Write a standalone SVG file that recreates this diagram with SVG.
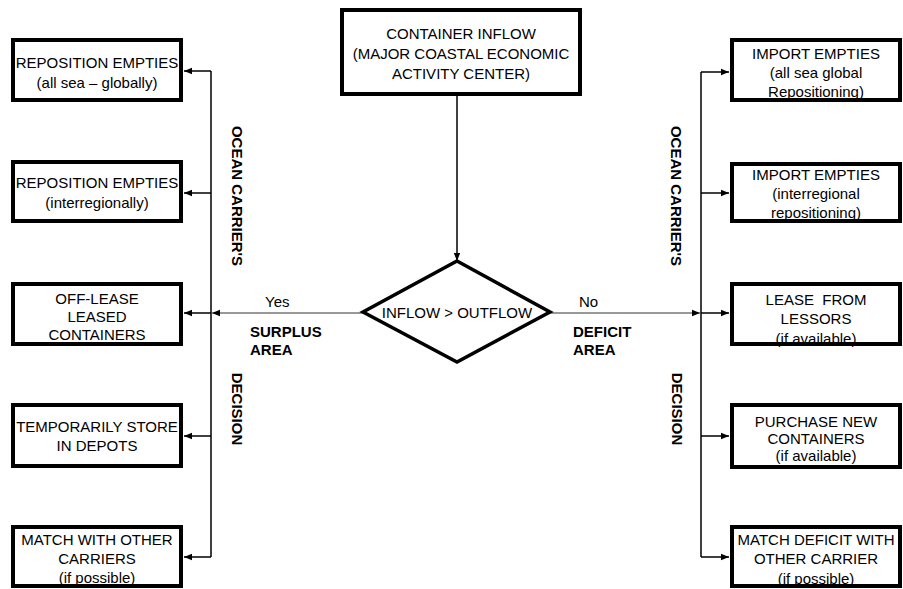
<svg xmlns="http://www.w3.org/2000/svg" width="903" height="589" viewBox="0 0 903 589">
<style>
text{font-family:"Liberation Sans",Arial,sans-serif;font-size:15px;fill:#000}
.c{text-anchor:middle}
.b{font-weight:bold}
.box{fill:none;stroke:#000;stroke-width:4}
.dia{fill:#fff;stroke:#000;stroke-width:3.5}
.ln{fill:none;stroke:#000;stroke-width:1.5}
.lt{fill:none;stroke:#333;stroke-width:1}
</style>
<defs>
<marker id="ah" viewBox="0 0 8 8" refX="8" refY="4" markerWidth="8" markerHeight="8" markerUnits="userSpaceOnUse" orient="auto">
<path d="M0,0.8 L8,4 L0,7.2 Z" fill="#000"/>
</marker>
</defs>
<rect width="903" height="589" fill="#fff"/>

<g id="connectors">
<path class="ln" d="M457,95 V261" marker-end="url(#ah)"/>
<path class="lt" d="M363,313 H212" marker-end="url(#ah)"/>
<path class="lt" d="M550,313 H700" marker-end="url(#ah)"/>
<path class="ln" d="M211,71 V557"/>
<path class="ln" d="M211,71 H184" marker-end="url(#ah)"/>
<path class="ln" d="M211,193 H184" marker-end="url(#ah)"/>
<path class="ln" d="M211,313 H184" marker-end="url(#ah)"/>
<path class="ln" d="M211,436 H184" marker-end="url(#ah)"/>
<path class="ln" d="M211,557 H184" marker-end="url(#ah)"/>
<path class="ln" d="M701,72 V557"/>
<path class="ln" d="M701,72 H729" marker-end="url(#ah)"/>
<path class="ln" d="M701,193 H729" marker-end="url(#ah)"/>
<path class="ln" d="M701,313 H729" marker-end="url(#ah)"/>
<path class="ln" d="M701,436 H729" marker-end="url(#ah)"/>
<path class="ln" d="M701,557 H729" marker-end="url(#ah)"/>
</g>

<g id="labels">
<text x="265" y="307">Yes</text>
<text class="b" x="250" y="337">SURPLUS</text>
<text class="b" x="250" y="355">AREA</text>
<text x="579" y="307">No</text>
<text class="b" x="573" y="337">DEFICIT</text>
<text class="b" x="573" y="355">AREA</text>
<text class="b c" transform="translate(237,196) rotate(90)" dominant-baseline="central">OCEAN CARRIER'S</text>
<text class="b c" transform="translate(237,409) rotate(90)" dominant-baseline="central">DECISION</text>
<text class="b c" transform="translate(676,196) rotate(90)" dominant-baseline="central">OCEAN CARRIER'S</text>
<text class="b c" transform="translate(677,409) rotate(90)" dominant-baseline="central">DECISION</text>
</g>

<g id="inflow">
<text class="c" x="461" y="39">CONTAINER INFLOW</text>
<text class="c" x="461" y="59">(MAJOR COASTAL ECONOMIC</text>
<text class="c" x="461" y="79">ACTIVITY CENTER)</text>
<rect class="box" x="342" y="10" width="238" height="84"/>
</g>

<g id="decision">
<polygon class="dia" points="457,261 550,312 457,362 363,312"/>
<text class="c" x="457" y="318">INFLOW &gt; OUTFLOW</text>
</g>

<g id="s1">
<text class="c" x="97" y="68">REPOSITION EMPTIES</text>
<text class="c" x="97" y="88">(all sea – globally)</text>
<rect class="box" x="13" y="40" width="168" height="60"/>
</g>
<g id="s2">
<text class="c" x="97" y="188">REPOSITION EMPTIES</text>
<text class="c" x="97" y="208">(interregionally)</text>
<rect class="box" x="13" y="162" width="168" height="59"/>
</g>
<g id="s3">
<text class="c" x="97" y="304">OFF-LEASE</text>
<text class="c" x="97" y="322">LEASED</text>
<text class="c" x="97" y="340">CONTAINERS</text>
<rect class="box" x="13" y="284" width="168" height="60"/>
</g>
<g id="s4">
<text class="c" x="97" y="432">TEMPORARILY STORE</text>
<text class="c" x="97" y="451">IN DEPOTS</text>
<rect class="box" x="13" y="405" width="168" height="61"/>
</g>
<g id="s5">
<text class="c" x="97" y="545">MATCH WITH OTHER</text>
<text class="c" x="97" y="564">CARRIERS</text>
<text class="c" x="97" y="583">(if possible)</text>
<rect class="box" x="13" y="527" width="168" height="59"/>
</g>

<g id="d1">
<text class="c" x="816" y="59">IMPORT EMPTIES</text>
<text class="c" x="816" y="78">(all sea global</text>
<text class="c" x="816" y="97">Repositioning)</text>
<rect class="box" x="732" y="40" width="168" height="60"/>
</g>
<g id="d2">
<text class="c" x="816" y="180">IMPORT EMPTIES</text>
<text class="c" x="816" y="199">(interregional</text>
<text class="c" x="816" y="218">repositioning)</text>
<rect class="box" x="732" y="164" width="168" height="57"/>
</g>
<g id="d3">
<text class="c" x="816" y="305" style="white-space:pre">LEASE  FROM</text>
<text class="c" x="816" y="324">LESSORS</text>
<text class="c" x="816" y="344">(if available)</text>
<rect class="box" x="732" y="284" width="168" height="60"/>
</g>
<g id="d4">
<text class="c" x="816" y="427">PURCHASE NEW</text>
<text class="c" x="816" y="444">CONTAINERS</text>
<text class="c" x="816" y="461">(if available)</text>
<rect class="box" x="732" y="405" width="168" height="62"/>
</g>
<g id="d5">
<text class="c" x="816" y="545">MATCH DEFICIT WITH</text>
<text class="c" x="816" y="564">OTHER CARRIER</text>
<text class="c" x="816" y="584">(if possible)</text>
<rect class="box" x="732" y="527" width="168" height="59"/>
</g>
</svg>
